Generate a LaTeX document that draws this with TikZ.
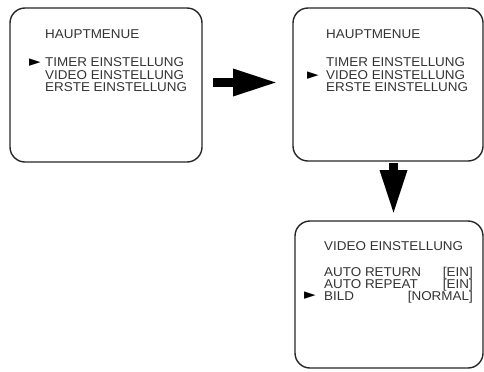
\documentclass[tikz,border=0pt]{standalone}
\usepackage{fontspec}
\setmainfont{Liberation Sans}
\newfontfamily\symfont{DejaVu Sans}
\usetikzlibrary{arrows.meta}

\tikzset{
  screen/.style={draw=black!85, line width=1.4bp, rounded corners=15bp, inner sep=0pt},
  menutext/.style={anchor=base west, inner sep=0pt, text=black!80, xscale=1.05,
    text height=9bp, text depth=0pt,
    font=\fontsize{12.8bp}{12.8bp}\selectfont},
  menuval/.style={menutext, anchor=base east},
  cursor/.style={anchor=center, inner sep=0pt, text=black,
    font=\symfont\fontsize{15bp}{15bp}\selectfont},
  blockarrow/.style={line width=9bp, -{Triangle[length=45bp,width=25bp]}}
}

\begin{document}
\begin{tikzpicture}[x=1bp,y=-1bp]
    \useasboundingbox (0,0) rectangle (484,371);
    % screens
    \draw[screen] (10,8) rectangle (202,162);
    \draw[screen] (293,8) rectangle (483,161);
    \draw[screen] (295,221) rectangle (483,368);
    \coordinate (s1e) at (202,82.5);
    \coordinate (s2w) at (293,82.5);
    \coordinate (s2s) at (393.5,161);
    \coordinate (s3n) at (393.5,221);
    % arrows
    \draw[blockarrow] ([xshift=11bp]s1e) -- ([xshift=-15bp]s2w);
    \draw[blockarrow] ([yshift=-2bp]s2s) -- ([yshift=6bp]s3n);
    % first screen
    \node[menutext] (ma) at (45,38) {HAUPTMENUE};
    \node[menutext] (mb) at (45,66) {TIMER EINSTELLUNG};
    \node[menutext] (mc) at (45,79) {VIDEO EINSTELLUNG};
    \node[menutext] (md) at (45,91.5) {ERSTE EINSTELLUNG};
    \node[cursor] (ca) at (35,62.5) {►};
    % second screen
    \node[menutext] (na) at (326,38) {HAUPTMENUE};
    \node[menutext] (nb) at (326,66) {TIMER EINSTELLUNG};
    \node[menutext] (nc) at (326,79) {VIDEO EINSTELLUNG};
    \node[menutext] (nd) at (326,91.5) {ERSTE EINSTELLUNG};
    \node[cursor] (cb) at (313,75.5) {►};
    % third screen
    \node[menutext] (va) at (324,250) {VIDEO EINSTELLUNG};
    \node[menutext] (vb) at (324,276.5) {AUTO RETURN};
    \node[menutext] (vc) at (324,288.7) {AUTO REPEAT};
    \node[menutext] (vd) at (324,300.5) {BILD};
    \node[menuval] (wb) at (473,276.5) {[EIN]};
    \node[menuval] (wc) at (473,288.7) {[EIN]};
    \node[menuval] (wd) at (473,300.5) {[NORMAL]};
    \node[cursor] (cc) at (310,295.5) {►};
  \end{tikzpicture}
\end{document}
